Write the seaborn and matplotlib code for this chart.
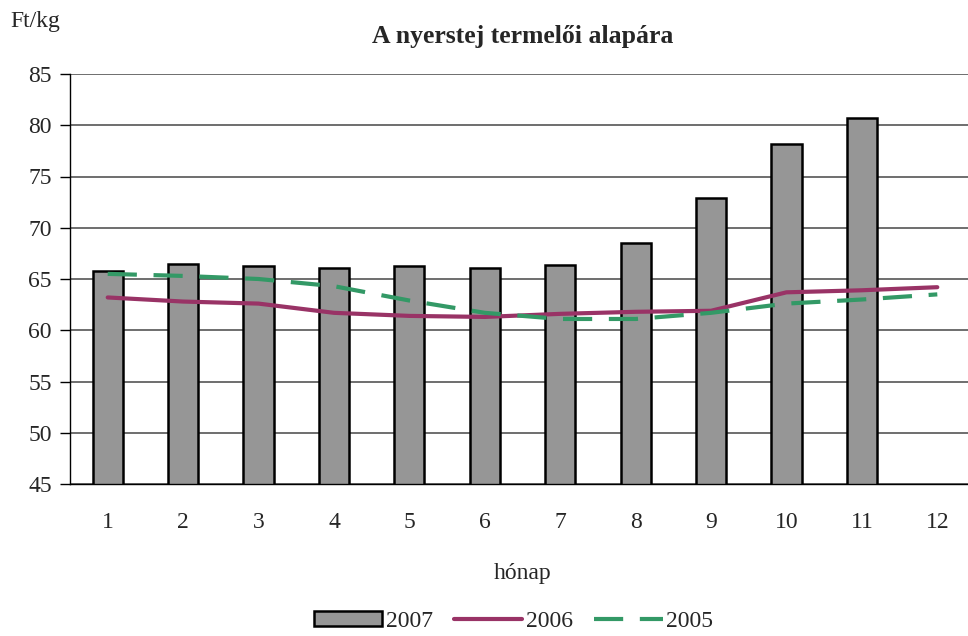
import numpy as np
import pandas as pd
import seaborn as sns
import matplotlib.pyplot as plt

months = [str(m) for m in range(1, 13)]
price_2007 = [65.8, 66.5, 66.3, 66.1, 66.3, 66.1, 66.4, 68.5, 72.9, 78.2, 80.7, np.nan]
price_2006 = [63.2, 62.8, 62.6, 61.7, 61.4, 61.3, 61.6, 61.8, 61.9, 63.7, 63.9, 64.2]
price_2005 = [65.5, 65.3, 65.0, 64.3, 62.9, 61.7, 61.1, 61.1, 61.7, 62.6, 63.0, 63.5]

df = pd.DataFrame({"month": months, "2007": price_2007, "2006": price_2006, "2005": price_2005})
df["pos"] = np.arange(len(months))

sns.set_style("white")
plt.rcParams["font.family"] = ["Liberation Serif", "DejaVu Serif"]

fig = plt.figure(figsize=(9.68, 6.36), dpi=100)
ax = fig.add_axes([70 / 968, 1 - 484 / 636, 905 / 968, 410 / 636])

sns.barplot(data=df, x="month", y="2007", color="#969696", edgecolor="black",
            linewidth=1.8, width=0.4, saturation=1, ax=ax, label="2007", zorder=2)
sns.lineplot(data=df, x="pos", y="2006", color="#993366", linewidth=3, ax=ax,
             label="2006", zorder=3)
sns.lineplot(data=df, x="pos", y="2005", color="#339966", linewidth=3, ax=ax,
             label="2005", zorder=3, dashes=False, linestyle=(0, (7, 4)))

ax.set_ylim(45, 85)
ax.set_yticks(range(45, 90, 5))
ax.set_xlim(-0.5, 11.5)
ax.yaxis.grid(True, color="#555555", linewidth=1.2, zorder=0)
ax.set_axisbelow(True)
for s in ["top", "right"]:
    ax.spines[s].set_visible(False)
ax.spines["left"].set_color("black")
ax.spines["bottom"].set_color("black")
ax.spines["left"].set_linewidth(1)
ax.spines["bottom"].set_linewidth(1)

ax.set_xticks(np.arange(12))
ax.set_xticklabels(months)
ax.set_xticks(np.arange(-0.5, 12, 1), minor=True)
ax.tick_params(axis="x", which="major", length=0, labelsize=17, pad=20)
ax.tick_params(axis="x", which="minor", length=7, color="black", width=1)
ax.tick_params(axis="y", length=7, color="black", width=1, labelsize=17, pad=6, left=True)

ax.set_xlabel("hónap", fontsize=17, labelpad=22)
ax.set_ylabel("")
ax.set_title("A nyerstej termelői alapára", fontsize=18.5, fontweight="bold", pad=22)
fig.text(10 / 968, 1 - 22 / 636, "Ft/kg", fontsize=17, va="center", ha="left")

handles, labels = ax.get_legend_handles_labels()
order = [labels.index(l) for l in ["2007", "2006", "2005"]]
ax.legend([handles[i] for i in order], [labels[i] for i in order],
          loc="center", bbox_to_anchor=(0.49, -0.335), ncol=3, frameon=False,
          fontsize=17, handlelength=2.9, handleheight=0.6, handletextpad=0.15,
          columnspacing=0.9)

plt.savefig("out.png", dpi=100)
